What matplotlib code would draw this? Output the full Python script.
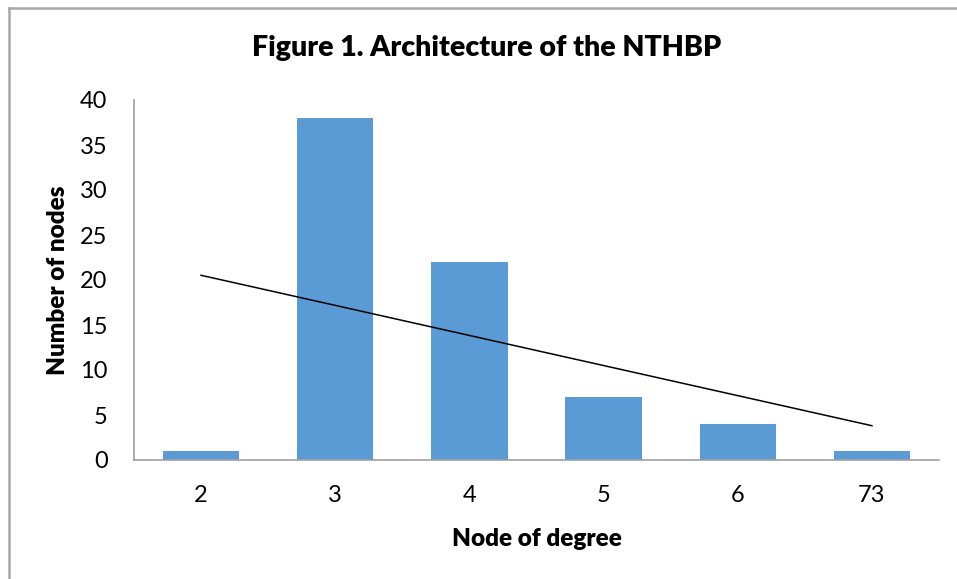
import numpy as np
from matplotlib import pyplot as plt
from matplotlib.lines import Line2D

degrees = ["2", "3", "4", "5", "6", "73"]
node_counts = [1, 38, 22, 7, 4, 1]
yticks = [0, 5, 10, 15, 20, 25, 30, 35, 40]

W, H = 957, 579
plt.rcParams['font.family'] = ['Lato', 'DejaVu Sans']

fig = plt.figure(figsize=(W / 100, H / 100), dpi=100)
# plot area in pixels: left 134, right 939, top 100, bottom 460
ax = fig.add_axes([134 / W, 1 - 460 / H, (939 - 134) / W, (460 - 100) / H])

x = np.arange(len(degrees))
ax.bar(x, node_counts, width=0.57, color="#5b9bd5", zorder=2)

# linear trendline over category index
coe = np.polyfit(x, node_counts, 1)
ax.plot(x, np.polyval(coe, x), color="black", lw=1.1, zorder=3)

ax.set_xlim(-0.5, len(degrees) - 0.5)
ax.set_ylim(0, 40)
ax.set_yticks(yticks)
ax.set_xticks(x)
ax.set_xticklabels(degrees)
ax.tick_params(length=0, labelsize=17)
ax.tick_params(axis="y", pad=19)
ax.tick_params(axis="x", pad=18)

for s in ["top", "right"]:
    ax.spines[s].set_visible(False)
for s in ["left", "bottom"]:
    ax.spines[s].set_color("#a0a0a0")
    ax.spines[s].set_linewidth(1.2)

ax.set_xlabel("Node of degree", fontsize=17.5, fontweight="heavy", labelpad=16)
ax.set_ylabel("Number of nodes", fontsize=17.5, fontweight="heavy", labelpad=8)
fig.text(487 / W, 1 - 48 / H, "Figure 1. Architecture of the NTHBP",
         ha="center", va="center", fontsize=20.5, fontweight="heavy")

# chart frame (top and left edges visible)
fig.add_artist(Line2D([8.5 / W, 8.5 / W], [0, 1 - 7.5 / H], color="#a8a8a8", lw=1.8))
fig.add_artist(Line2D([8.5 / W, 1], [1 - 7.5 / H, 1 - 7.5 / H], color="#a8a8a8", lw=1.8))

plt.savefig("out.png", dpi=100)
